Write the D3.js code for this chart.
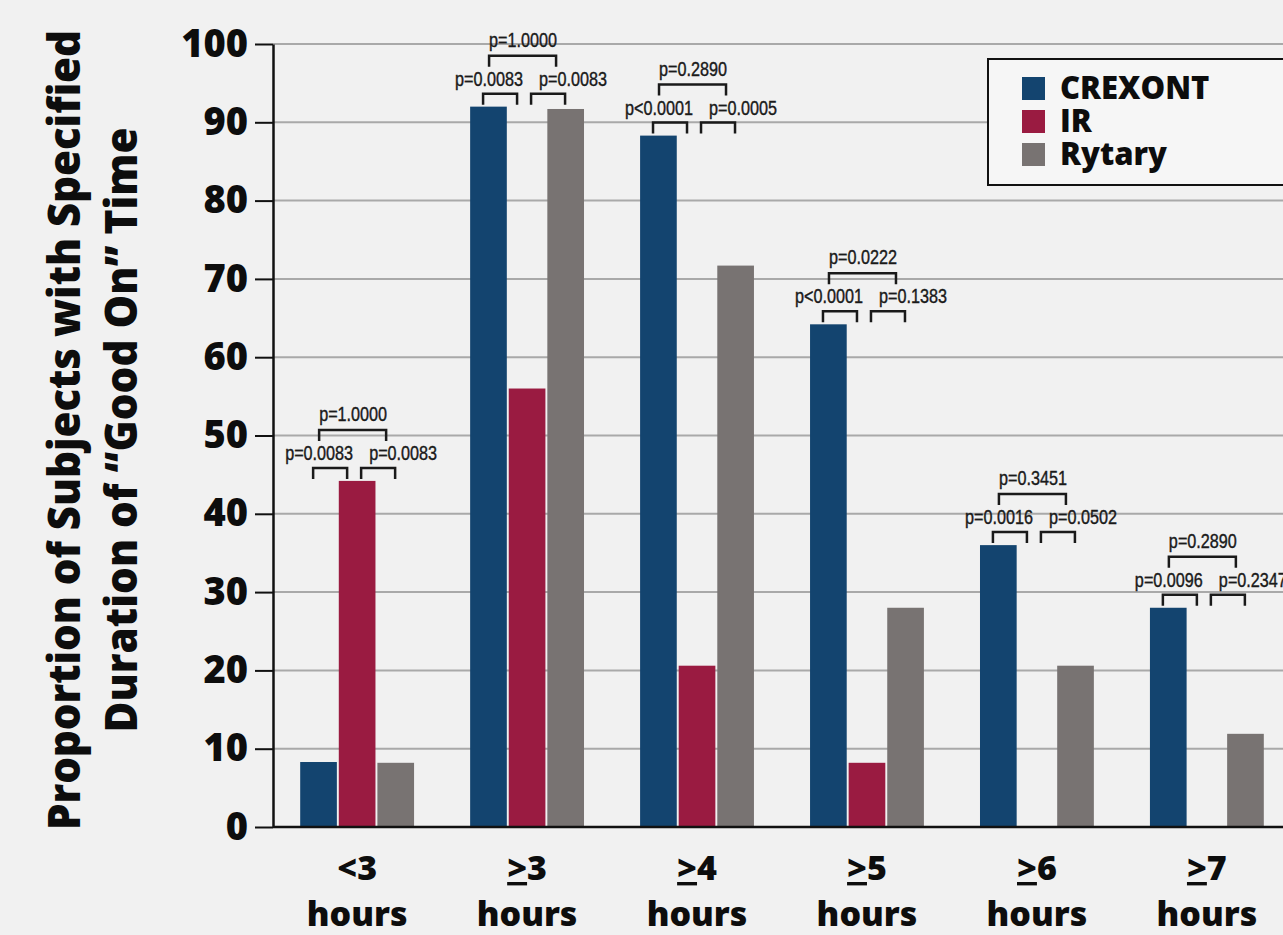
<!DOCTYPE html>
<meta charset="utf-8">
<style>
body { margin: 0; background: #f1f1f1; }
svg { display: block; }
text { font-family: "Open Sans", sans-serif; fill: #0d0d0d; }
.pval { font-family: "Liberation Sans Narrow", "Liberation Sans", Arial, sans-serif; font-size: 19.5px; fill: #1a1a1a; stroke: #1a1a1a; stroke-width: 0.4; }
.bracket { fill: none; stroke: #1a1a1a; stroke-width: 2.5; }
.grid line { stroke: #a9a9a9; stroke-width: 2; }
</style>
<body>
<script src="https://d3js.org/d3.v7.min.js"></script>
<script>
var categories = ['<3', '≥3', '≥4', '≥5', '≥6', '≥7']
var seriesNames = ['CREXONT', 'IR', 'Rytary']
var crexont = [8.3, 92, 88.3, 64.2, 36, 28]
var ir = [44.2, 56, 20.6, 8.2, 0, 0]
var rytary = [8.2, 91.7, 71.7, 28, 20.6, 11.9]
var pLeft = ['p=0.0083', 'p=0.0083', 'p<0.0001', 'p<0.0001', 'p=0.0016', 'p=0.0096']
var pRight = ['p=0.0083', 'p=0.0083', 'p=0.0005', 'p=0.1383', 'p=0.0502', 'p=0.2347']
var pTop = ['p=1.0000', 'p=1.0000', 'p=0.2890', 'p=0.0222', 'p=0.3451', 'p=0.2890']
var yTicks = [0, 10, 20, 30, 40, 50, 60, 70, 80, 90, 100]
var colors = ['#13446f', '#9a1b41', '#787372']

var width = 1283
var height = 935

var x = d3.scaleBand()
    .domain(categories)
    .range([273, 1291])
    .paddingInner(0.33)
    .paddingOuter(0.16)

var xs = d3.scaleBand()
    .domain(seriesNames)
    .range([0, x.bandwidth()])
    .paddingInner(0.05)

var y = d3.scaleLinear()
    .domain([0, 100])
    .range([827, 44])

var color = d3.scaleOrdinal().domain(seriesNames).range(colors)

var rows = categories.map(function (c, i) {
    return { cat: c, i: i, vals: [crexont[i], ir[i], rytary[i]] }
})

var svg = d3.select('body')
    .append('svg')
    .attr('width', width)
    .attr('height', height)

// gridlines
svg.append('g')
    .attr('class', 'grid')
    .selectAll('line')
    .data(yTicks.slice(1))
    .enter().append('line')
    .attr('x1', 273)
    .attr('x2', width)
    .attr('y1', function (d) { return y(d) })
    .attr('y2', function (d) { return y(d) })

// bars
var groups = svg.append('g')
    .selectAll('g')
    .data(rows)
    .enter().append('g')
    .attr('transform', function (d) { return 'translate(' + x(d.cat) + ',0)' })

groups.selectAll('rect')
    .data(function (d) {
        return seriesNames.map(function (s, j) { return { s: s, v: d.vals[j] } })
    })
    .enter().append('rect')
    .attr('x', function (d) { return xs(d.s) })
    .attr('width', xs.bandwidth())
    .attr('y', function (d) { return y(d.v) })
    .attr('height', function (d) { return y(0) - y(d.v) })
    .attr('fill', function (d) { return color(d.s) })

// y axis
var yAxis = svg.append('g')
    .attr('transform', 'translate(273,0)')
    .call(d3.axisLeft(y).tickValues(yTicks).tickSize(18).tickSizeOuter(0).tickPadding(7))

yAxis.select('.domain').attr('stroke', '#111').attr('stroke-width', 2.5)
yAxis.selectAll('.tick line').attr('stroke', '#111').attr('stroke-width', 2)
yAxis.selectAll('.tick text')
    .attr('fill', '#0d0d0d')
    .style('font-family', '"Open Sans", sans-serif')
    .style('font-size', '38px')
    .style('font-weight', 800)

// baseline
svg.append('line')
    .attr('x1', 273).attr('x2', width)
    .attr('y1', y(0)).attr('y2', y(0))
    .attr('stroke', '#111')
    .attr('stroke-width', 2.5)

// x labels
var xl = svg.append('g')
    .selectAll('g')
    .data(categories)
    .enter().append('g')
    .attr('transform', function (d) { return 'translate(' + (x(d) + x.bandwidth() / 2) + ',0)' })

var first = xl.append('text')
    .attr('y', 880)
    .attr('text-anchor', 'middle')
    .style('font-size', '34px')
    .style('font-weight', 800)

first.each(function (d) {
    var t = d3.select(this)
    if (d.charAt(0) === '≥') {
        t.append('tspan').text('>').style('text-decoration', 'underline')
        t.append('tspan').text(d.slice(1))
    } else {
        t.text(d)
    }
})

xl.append('text')
    .attr('y', 926)
    .attr('text-anchor', 'middle')
    .style('font-size', '34px')
    .style('font-weight', 800)
    .text('hours')

// p-value brackets
var ann = svg.append('g')
    .selectAll('g')
    .data(rows)
    .enter().append('g')
    .attr('transform', function (d) {
        var c = x(d.cat) + x.bandwidth() / 2
        return 'translate(' + c + ',' + y(d3.max(d.vals)) + ')'
    })

ann.append('path').attr('class', 'bracket').attr('d', 'M-44,-2V-13H-10V-2')
ann.append('path').attr('class', 'bracket').attr('d', 'M4,-2V-13H38V-2')
ann.append('path').attr('class', 'bracket').attr('d', 'M-38,-40V-51H29V-40')

function pText(cls, px, py, list) {
    ann.append('text').attr('class', cls)
        .attr('x', px).attr('y', py)
        .attr('text-anchor', 'middle')
        .attr('textLength', 68)
        .attr('lengthAdjust', 'spacingAndGlyphs')
        .text(function (d) { return list[d.i] })
}
pText('pval', -38, -21, pLeft)
pText('pval', 46, -21, pRight)
pText('pval', -4, -60, pTop)

// legend
var legend = svg.append('g').attr('transform', 'translate(988,59)')
legend.append('rect')
    .attr('width', 330).attr('height', 126)
    .attr('fill', '#f6f6f6')
    .attr('stroke', '#111')
    .attr('stroke-width', 2)

var li = legend.selectAll('g')
    .data(seriesNames)
    .enter().append('g')
    .attr('transform', function (d, i) { return 'translate(34,' + (18 + i * 33) + ')' })

li.append('rect')
    .attr('width', 23).attr('height', 23)
    .attr('fill', function (d) { return color(d) })

li.append('text')
    .attr('x', 38).attr('y', 22)
    .style('font-size', '31px')
    .style('font-weight', 800)
    .text(function (d) { return d })

// y title
var title = svg.append('g').attr('transform', 'translate(80,430) rotate(-90)')
title.append('text')
    .attr('text-anchor', 'middle')
    .attr('textLength', 800)
    .attr('lengthAdjust', 'spacingAndGlyphs')
    .style('font-size', '44px')
    .style('font-weight', 800)
    .text('Proportion of Subjects with Specified')
title.append('text')
    .attr('y', 57)
    .attr('text-anchor', 'middle')
    .attr('textLength', 605)
    .attr('lengthAdjust', 'spacingAndGlyphs')
    .style('font-size', '44px')
    .style('font-weight', 800)
    .text('Duration of \u201cGood On\u201d Time')
</script>
</body>
